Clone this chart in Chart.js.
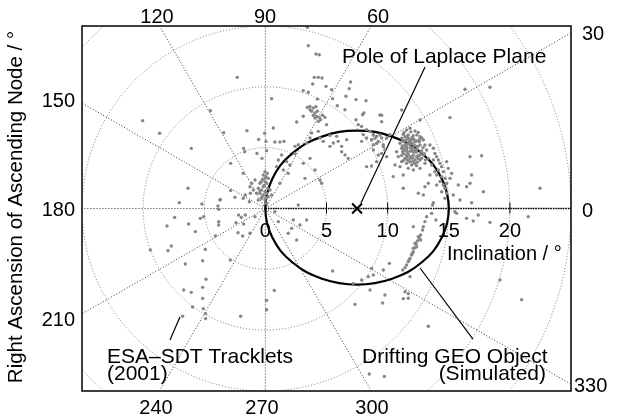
<!DOCTYPE html>
<html lang="en">
<head>
    <meta charset="UTF-8">
    <title>Inclination vs RAAN</title>
    <script src="https://cdn.jsdelivr.net/npm/chart.js"></script>
    <style>
        html, body {
            margin: 0;
            padding: 0;
            background: #fff;
        }
        #chartContainer {
            width: 624px;
            height: 417px;
        }
    </style>
</head>
<body>
    <div id="chartContainer">
        <canvas id="polarChart" width="624" height="417"></canvas>
    </div>

    <script>
        // tracklets as inclination vector components: [i*cos(RAAN), i*sin(RAAN)] in degrees
        const trackletPoints = [
            [3.43,14.89],[3.51,13.38],[4.14,12.70],[4.41,12.64],[-2.30,10.78],[4.00,10.78],[4.33,10.78],[4.63,10.73],
            [3.87,10.23],[4.96,10.04],[6.97,10.40],[5.42,9.77],[6.86,9.85],[3.10,9.69],[3.51,9.55],[0.51,9.03],
            [4.25,9.00],[6.59,9.22],[5.50,9.03],[5.88,8.45],[7.41,8.95],[8.23,8.86],[6.51,8.12],[3.43,8.31],
            [3.65,8.39],[3.92,8.26],[4.14,8.37],[3.78,7.99],[4.06,7.85],[4.25,7.99],[3.92,7.66],[4.19,7.57],
            [4.41,7.49],[4.52,7.30],[4.33,7.16],[4.68,7.66],[3.65,8.12],[4.06,7.44],[4.87,7.49],[3.10,7.58],
            [2.56,7.11],[8.06,7.85],[7.95,7.71],[9.51,7.66],[7.41,7.30],[5.01,6.89],[0.65,6.62],[0.05,5.52],
            [0.78,5.46],[1.19,5.46],[1.52,5.52],[2.42,5.11],[2.69,5.24],[3.37,5.38],[3.78,6.21],[4.33,6.34],
            [3.65,5.79],[4.47,5.79],[4.74,5.52],[5.28,6.01],[5.56,5.38],[5.96,5.52],[5.28,5.11],[6.24,5.11],
            [6.65,5.66],[5.83,5.93],[7.60,6.89],[7.87,6.75],[8.28,6.48],[8.55,6.34],[8.83,6.07],[9.10,5.93],
            [8.69,5.66],[8.28,5.79],[8.01,6.07],[7.87,5.52],[9.24,5.52],[9.51,5.79],[9.64,5.25],[9.92,5.79],
            [10.19,6.07],[8.83,5.25],[0.10,4.75],
            [-2.84,3.71],[-1.81,2.89],[-0.03,3.03],[0.16,2.89],[-0.17,2.75],[0.05,2.62],[0.24,2.48],[-0.22,2.40],
            [-0.03,2.21],[-0.44,2.07],[0.10,2.07],[-0.17,1.79],[-0.58,1.66],[-0.31,1.52],[-0.03,1.38],[-0.44,1.25],
            [-0.17,1.11],[0.10,1.25],[0.24,0.97],[-0.72,1.25],[-0.99,1.52],[-1.26,1.79],[-1.12,2.07],[-0.85,2.34],
            [0.51,1.11],[0.38,1.52],[-0.31,0.84],[-0.03,0.70],[-0.58,0.70],[0.10,0.42],[-2.84,1.47],[-2.49,0.92],
            [-1.81,0.84],[-1.31,0.56],[-3.71,0.70],[1.06,3.99],[1.33,4.40],[1.74,3.85],[2.01,3.58],[1.47,3.16],
            [0.92,3.44],[1.87,2.89],[1.19,2.07],[2.42,4.53],[3.10,3.71],[3.65,4.12],[4.06,3.16],[4.47,2.34],
            [4.60,2.07],[3.24,2.48],[6.24,4.67],[6.51,4.40],[6.78,4.12],[8.28,3.44],[8.69,3.49],[2.69,0.29],
            [3.37,-0.95],[2.28,-0.95],[2.83,-1.36],[1.87,-2.04],[2.56,-2.59],[2.15,-1.63],[1.06,-1.08],[0.78,-0.26],
            [-1.26,-2.04],[-0.85,-0.67],
            [-0.10,1.90],[0.00,2.50],[-0.35,2.20],[0.20,1.65],[-0.25,1.00],[0.05,0.90],[-0.45,1.45],
            [-10.04,7.22],[-8.65,6.18],[-6.06,4.94],[-1.51,6.40],[-0.06,6.18],[-0.55,5.68],[-1.78,4.94],[-1.70,4.67],
            [-0.69,4.53],[-0.28,4.12],[-1.64,1.11],[-1.23,1.25],[-6.33,1.66],[-7.04,0.48],[-3.69,0.75],[-3.82,-0.07],
            [-3.88,0.20],[-5.19,0.37],[-7.42,-0.73],[-5.32,-0.81],[-5.05,-0.67],[-6.28,-1.28],[-3.82,-1.08],[-3.82,-1.36],
            [-2.19,-0.53],[-1.97,-0.73],[-2.40,-1.17],[-1.78,-1.28],[-1.64,-0.53],[-8.05,-1.44],[-5.73,-1.90],[-2.24,-1.99],
            [-1.86,-2.26],[-7.69,-3.08],[-7.97,-3.47],[-9.41,-3.41],[-4.91,-3.36],[-4.09,-2.26],[-2.87,-4.23],[-6.55,-4.56],
            [-5.13,-4.29],[-4.86,-5.82],[-6.68,-6.70],[-6.06,-6.89],[-5.13,-6.48],[-5.13,-7.39],[-4.50,8.04],[-3.41,6.23],
            [-5.95,-8.10],[-5.08,-8.23],[-4.89,-8.64],[-4.89,-9.05],[-6.77,-8.86],[-2.02,-8.86],[0.10,-7.55],[0.10,-8.32],
            [0.73,-6.73],
            [11.15,8.10],[9.37,7.69],[9.51,7.14],[15.10,7.47],[12.65,7.27],[8.83,6.04],[8.97,5.77],[8.69,5.63],
            [9.10,5.36],[9.37,6.04],[9.65,5.08],[9.78,4.81],[9.51,4.53],[9.24,4.40],[8.83,4.81],[9.92,4.26],
            [9.10,3.85],[11.55,6.45],[11.83,6.59],[12.24,6.37],[12.51,6.26],[11.28,6.10],[11.69,6.04],[12.10,5.99],
            [12.65,5.90],[11.15,5.77],[11.50,5.63],[11.96,5.63],[12.37,5.55],[12.92,5.63],[11.01,5.36],[11.42,5.22],
            [11.83,5.28],[12.24,5.17],[12.65,5.22],[13.05,5.22],[11.15,4.95],[11.55,4.89],[11.96,4.81],[12.37,4.81],
            [12.78,4.73],[11.28,4.53],[11.69,4.45],[12.10,4.40],[12.51,4.34],[12.92,4.40],[11.42,4.12],[11.83,4.07],
            [12.24,3.99],[12.65,3.99],[11.15,3.85],[11.55,3.71],[11.96,3.58],[12.37,3.52],[10.87,4.26],[10.74,4.67],
            [13.19,4.81],[13.33,4.12],[13.05,3.71],[11.01,3.44],[11.69,3.30],[12.10,3.17],[12.65,3.30],[11.77,5.49],
            [12.05,5.00],[11.61,4.67],[12.32,4.62],[12.59,5.49],[11.34,5.49],[11.88,4.26],[12.43,3.80],[11.28,4.95],
            [11.42,5.90],[11.69,5.77],[11.96,5.36],[12.24,5.49],[11.55,5.08],[11.83,5.00],[12.10,4.67],[12.37,4.26],
            [12.65,4.40],[12.78,4.12],[11.50,4.40],[11.23,4.67],[11.61,3.99],[12.05,3.85],
            [11.35,6.25],[11.90,6.30],[12.40,6.05],[11.60,5.95],[12.00,5.85],[12.80,5.80],[11.25,5.60],[11.75,5.70],
            [12.15,5.70],[12.60,5.65],[11.20,5.15],[11.65,5.30],[12.05,5.30],[12.45,5.10],[12.90,5.00],[11.35,4.75],
            [11.85,4.70],[12.25,4.85],[12.70,4.60],[11.15,4.35],[11.60,4.25],[12.05,4.15],[12.50,4.10],[11.30,3.95],
            [11.80,3.85],[12.20,3.70],[13.00,4.50],[13.10,4.00],
            [13.46,5.22],[13.74,4.95],[13.87,4.53],[14.01,4.26],[14.15,3.99],[14.28,3.71],[13.74,3.99],[14.42,3.44],
            [14.15,3.17],[14.55,3.03],[14.01,2.75],[14.42,2.62],[14.69,2.48],[14.28,2.21],[14.55,1.93],[14.83,2.07],
            [14.01,1.93],[14.96,3.30],[15.24,2.89],[14.83,3.85],[15.10,2.48],[13.60,3.58],[13.87,3.03],[13.46,2.75],
            [14.69,1.66],[14.42,1.38],[14.83,1.25],
            [16.74,4.26],[17.69,4.34],[16.87,2.75],[16.74,2.07],[17.83,1.38],[15.92,0.70],[16.87,0.47],[13.74,0.47],
            [12.92,1.11],[12.51,1.25],[11.28,1.66],[10.60,3.58],[11.28,2.75],[10.46,2.62],[15.37,1.11],[15.78,1.93],
            [16.46,1.79],[13.33,2.07],[13.05,1.79],[13.68,0.29],[14.69,0.84],[22.46,1.66],[21.50,-0.67],[16.33,9.80],
            [18.37,9.96],
            [13.19,-0.67],[13.05,-1.08],[12.92,-1.49],[12.86,-1.77],[12.70,-2.18],[12.59,-2.45],[12.43,-2.67],[12.32,-2.94],
            [12.24,-3.22],[12.10,-3.55],[11.96,-3.82],[11.83,-4.10],[11.69,-4.37],[11.55,-4.64],[11.42,-4.86],[11.23,-5.05],
            [12.51,-2.31],[12.70,-2.59],[12.24,-2.86],[12.37,-3.14],[12.10,-3.27],[12.02,-3.68],[11.75,-4.23],[13.60,-0.40],
            [13.95,-0.95],[15.50,-0.26],[15.64,-0.40],[16.46,-0.81],[17.00,-1.03],[17.41,-0.53],[18.37,-1.14],[19.19,-5.88],
            [10.14,-4.51],[8.69,-4.92],[8.42,-5.60],[8.83,-5.46],[7.87,-5.88],[7.19,-6.15],[5.50,-5.14],[9.65,-5.05],
            [9.78,-7.11],[8.56,-6.70],[7.33,-7.88],[11.42,-6.84],[11.69,-7.38],[11.83,-5.60],[12.10,-1.49],
            [9.59,-7.77],[11.28,-7.41],[11.69,-7.00],[13.33,-9.68],[20.96,-7.49],[8.50,-13.60],[9.73,-13.80]
        ];

        // simulated drifting GEO object (closed loop, first and last pieces overlap)
        const orbitPath = [
            [14.43,-2.39],[15,0],[14.43,2.45],[12.80,4.53],[10.37,5.91],[7.5,6.4],[4.63,5.91],[2.20,4.53],
            [0.57,2.45],[0,0],[0.57,-2.39],[2.20,-4.42],[4.63,-5.77],[7.5,-6.25],[10.37,-5.77],[12.80,-4.42],
            [14.43,-2.39],[15,0],[14.43,2.45]
        ];
        const laplacePole = [7.5, 0];

        const gridRadii = [5, 10, 15, 20, 25, 30, 35];
        const spokeAngles = [0, 30, 60, 90, 120, 150, 180, 210, 240, 270, 300, 330];
        const inclinationTicks = [0, 5, 10, 15, 20];

        // pointer lines for the annotations, in data units
        const poleLeader = [[13.06, 11.63], [7.82, 0.45]];
        const trackletLeader = [[-7.80, -10.81], [-6.99, -8.92]];
        const orbitLeader = [[12.65, -4.89], [16.98, -10.73]];

        const FONT = "'Liberation Sans', Arial, sans-serif";

        const toXY = p => ({ x: p[0], y: p[1] });

        const polarFrame = {
            id: 'polarFrame',
            beforeDatasetsDraw(chart) {
                const { ctx, chartArea: a, scales: { x, y } } = chart;
                const cx = x.getPixelForValue(0), cy = y.getPixelForValue(0);
                const kx = x.getPixelForValue(1) - cx, ky = cy - y.getPixelForValue(1);
                ctx.save();
                ctx.beginPath();
                ctx.rect(a.left, a.top, a.right - a.left, a.bottom - a.top);
                ctx.clip();
                ctx.lineWidth = 1;
                ctx.setLineDash([1, 2]);
                ctx.strokeStyle = 'rgba(0,0,0,0.5)';
                gridRadii.forEach(r => {
                    ctx.beginPath();
                    ctx.ellipse(cx, cy, r * kx, r * ky, 0, 0, Math.PI * 2);
                    ctx.stroke();
                });
                ctx.strokeStyle = 'rgba(0,0,0,0.8)';
                spokeAngles.forEach(d => {
                    const t = d * Math.PI / 180;
                    ctx.beginPath();
                    ctx.moveTo(cx, cy);
                    ctx.lineTo(cx + 60 * kx * Math.cos(t), cy - 60 * ky * Math.sin(t));
                    ctx.stroke();
                });
                // inclination axis
                ctx.strokeStyle = '#000';
                ctx.lineWidth = 1.6;
                ctx.setLineDash([1.5, 1]);
                ctx.beginPath();
                ctx.moveTo(cx, cy);
                ctx.lineTo(a.right, cy);
                ctx.stroke();
                ctx.setLineDash([]);
                ctx.lineWidth = 1;
                inclinationTicks.forEach(v => {
                    if (v === 0) return;
                    const px = x.getPixelForValue(v);
                    ctx.beginPath();
                    ctx.moveTo(px, cy - 6);
                    ctx.lineTo(px, cy + 5);
                    ctx.stroke();
                });
                ctx.restore();
            },
            afterDraw(chart) {
                const { ctx, chartArea: a, scales: { x, y } } = chart;
                const cy = y.getPixelForValue(0);
                ctx.save();
                ctx.strokeStyle = '#000';
                ctx.lineWidth = 1.5;
                ctx.strokeRect(a.left, a.top, a.right - a.left, a.bottom - a.top);

                ctx.fillStyle = '#000';
                ctx.textBaseline = 'alphabetic';
                ctx.font = '20px ' + FONT;
                ctx.textAlign = 'center';
                inclinationTicks.forEach(v => ctx.fillText(String(v), x.getPixelForValue(v), cy + 28));

                // RAAN labels where the spokes leave the frame
                const raanLabels = [
                    ['120', 157, 23, 'center'], ['90', 265, 23, 'center'], ['60', 378, 23, 'center'],
                    ['30', 582, 40, 'left'], ['0', 582, 217, 'left'], ['330', 574, 392, 'left'],
                    ['150', 75, 107, 'right'], ['180', 75, 216, 'right'], ['210', 75, 326, 'right'],
                    ['240', 156, 414, 'center'], ['270', 262, 414, 'center'], ['300', 372, 414, 'center']
                ];
                raanLabels.forEach(([t, px, py, al]) => {
                    ctx.textAlign = al;
                    ctx.fillText(t, px, py);
                });

                ctx.textAlign = 'left';
                ctx.fillText('Inclination / °', 447, 260);

                ctx.font = '21px ' + FONT;
                ctx.fillText('Pole of Laplace Plane', 342, 63);
                ctx.fillText('ESA\u2013SDT Tracklets', 107, 363);
                ctx.fillText('(2001)', 107, 380);
                ctx.fillText('Drifting GEO Object', 362, 363);
                ctx.textAlign = 'right';
                ctx.fillText('(Simulated)', 546, 380);

                ctx.font = '20.5px ' + FONT;
                ctx.textAlign = 'center';
                ctx.translate(22, 207);
                ctx.rotate(-Math.PI / 2);
                ctx.fillText('Right Ascension of Ascending Node / °', 0, 0);
                ctx.restore();
            }
        };

        const lastOrbit = orbitPath.length - 1;
        const leader = pts => ({
            data: pts.map(toXY),
            showLine: true,
            borderColor: '#000',
            borderWidth: 1.2,
            pointRadius: 0
        });

        new Chart(document.getElementById('polarChart'), {
            type: 'scatter',
            data: {
                datasets: [
                    {
                        label: 'ESA-SDT Tracklets (2001)',
                        data: trackletPoints.map(toXY),
                        backgroundColor: '#868686',
                        borderWidth: 0,
                        pointRadius: 1.7
                    },
                    {
                        label: 'Drifting GEO Object',
                        data: orbitPath.map(toXY),
                        showLine: true,
                        borderColor: '#000',
                        borderWidth: 2.2,
                        pointRadius: 0,
                        tension: 0.4,
                        segment: {
                            borderColor: c => (c.p0DataIndex === 0 || c.p1DataIndex === lastOrbit) ? 'rgba(0,0,0,0)' : '#000'
                        }
                    },
                    {
                        label: 'Pole of Laplace Plane',
                        data: [toXY(laplacePole)],
                        pointStyle: 'crossRot',
                        pointRadius: 7,
                        borderColor: '#000',
                        borderWidth: 2
                    },
                    leader(poleLeader),
                    leader(trackletLeader),
                    leader(orbitLeader)
                ]
            },
            options: {
                responsive: false,
                animation: false,
                devicePixelRatio: 1,
                layout: { padding: { left: 82, right: 53, top: 26, bottom: 26 } },
                scales: {
                    x: { type: 'linear', min: -15, max: 25, display: false },
                    y: { type: 'linear', min: -15, max: 15, display: false }
                },
                plugins: {
                    legend: { display: false },
                    tooltip: { enabled: false }
                }
            },
            plugins: [polarFrame]
        });
    </script>
</body>
</html>
